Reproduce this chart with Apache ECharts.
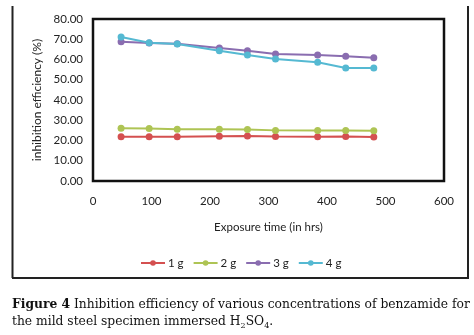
<!DOCTYPE html>
<html>
<head>
<meta charset="utf-8">
<script src="https://cdn.jsdelivr.net/npm/echarts@6/dist/echarts.min.js"></script>
<style>
html,body{margin:0;padding:0;background:#fff;}
#c{width:474px;height:335px;}
</style>
</head>
<body>
<div id="c"></div>
<script>
var hours = [48, 96, 144, 216, 264, 312, 384, 432, 480];
var seriesNames = ['1 g', '2 g', '3 g', '4 g'];
var g1 = [21.8, 21.8, 21.8, 22.1, 22.2, 22.0, 21.9, 22.0, 21.7];
var g2 = [26.0, 25.9, 25.5, 25.5, 25.4, 25.0, 24.9, 24.9, 24.8];
var g3 = [68.8, 68.2, 67.8, 65.7, 64.3, 62.7, 62.2, 61.6, 60.9];
var g4 = [71.1, 68.3, 67.6, 64.3, 62.2, 60.2, 58.6, 55.8, 55.8];
var xTicks = [0, 100, 200, 300, 400, 500, 600];
var yTicks = [0, 10, 20, 30, 40, 50, 60, 70, 80];
var colors = ['#d45050', '#aec454', '#8a6db0', '#55b9d2'];

var allValues = [g1, g2, g3, g4];
function pairs(vals) { return hours.map(function (h, i) { return [h, vals[i]]; }); }

var font = 'Lato, "Open Sans", sans-serif';
var serif = '"DejaVu Serif", serif';
var chart = echarts.init(document.getElementById('c'));
chart.setOption({
  animation: false,
  backgroundColor: '#fff',
  color: colors,
  grid: { left: 93, top: 19, right: 30, bottom: 154, show: true, borderColor: '#111', borderWidth: 2.5, backgroundColor: 'transparent' },
  xAxis: {
    type: 'value', min: xTicks[0], max: xTicks[xTicks.length - 1], interval: 100,
    name: 'Exposure time (in hrs)', nameLocation: 'middle', nameGap: 40,
    nameTextStyle: { fontFamily: font, fontSize: 11.5, color: '#222' },
    axisLine: { show: false }, axisTick: { show: false }, splitLine: { show: false },
    axisLabel: { margin: 14, fontFamily: font, fontSize: 11.5, color: '#222' }
  },
  yAxis: {
    type: 'value', min: yTicks[0], max: yTicks[yTicks.length - 1], interval: 10,
    name: 'inhibition efficiency (%)', nameLocation: 'middle', nameGap: 50,
    nameTextStyle: { fontFamily: font, fontSize: 12, color: '#222' },
    axisLine: { show: false }, axisTick: { show: false }, splitLine: { show: false },
    axisLabel: { margin: 10, fontFamily: font, fontSize: 11.5, color: '#222',
      formatter: function (v) { return v.toFixed(2); } }
  },
  legend: {
    top: 252, left: 135, itemWidth: 24, itemHeight: 7, itemGap: 9,
    textStyle: { fontFamily: font, fontSize: 11.5, color: '#222', padding: [0, 0, 0, -2] },
    data: seriesNames
  },
  series: seriesNames.map(function (n, i) {
    return {
      name: n, type: 'line', data: pairs(allValues[i]),
      symbol: 'circle', symbolSize: 7,
      lineStyle: { width: 2 }, itemStyle: { color: colors[i] }
    };
  }),
  graphic: [
    { type: 'line', shape: { x1: 12.5, y1: 6, x2: 12.5, y2: 278 }, style: { stroke: '#222', lineWidth: 2 } },
    { type: 'line', shape: { x1: 468, y1: 6, x2: 468, y2: 278 }, style: { stroke: '#222', lineWidth: 2 } },
    { type: 'line', shape: { x1: 12, y1: 278, x2: 469, y2: 278 }, style: { stroke: '#222', lineWidth: 2 } },
    { type: 'text', left: 12, top: 299, style: {
        text: '{b|Figure 4} Inhibition efficiency of various concentrations of benzamide for',
        fontFamily: serif, fontSize: 12.3, fill: '#111',
        rich: { b: { fontWeight: 'bold', fontFamily: serif, fontSize: 12.3 } }
      } },
    { type: 'text', left: 12, top: 314, style: {
        text: 'the mild steel specimen immersed H{s|2}SO{s|4}.',
        fontFamily: serif, fontSize: 12.3, fill: '#111', lineHeight: 16,
        rich: { s: { fontSize: 8, lineHeight: 6, verticalAlign: 'bottom', fontFamily: serif } }
      } }
  ]
});
</script>
</body>
</html>
